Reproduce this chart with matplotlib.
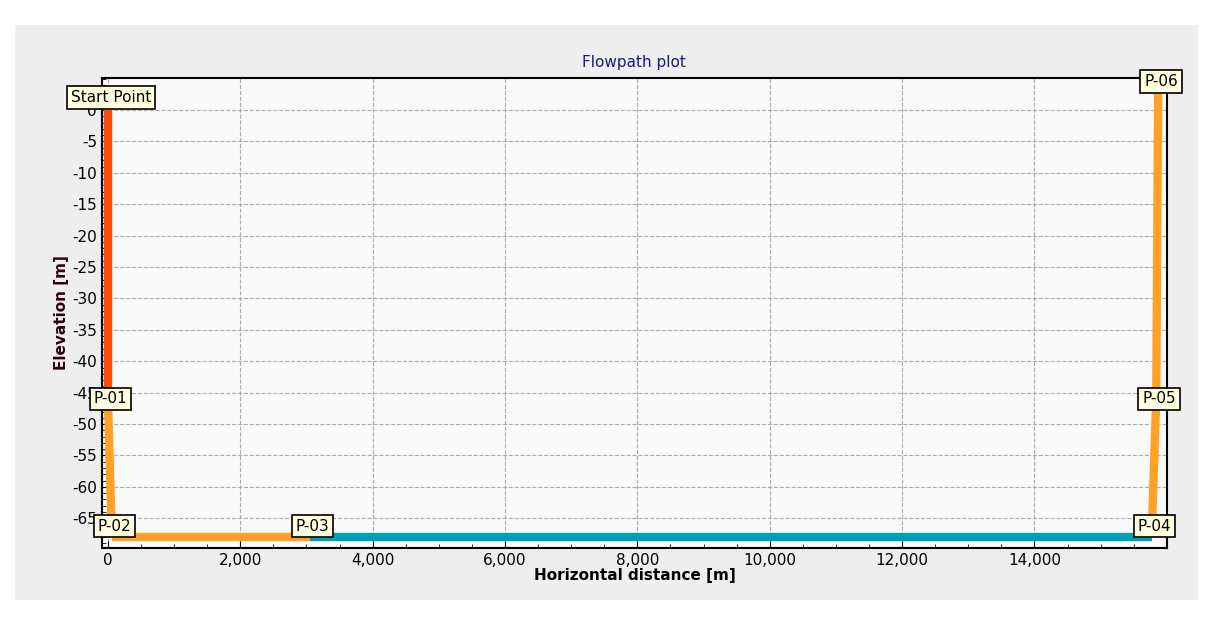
import matplotlib.pyplot as plt
from matplotlib.ticker import FuncFormatter, MultipleLocator

plt.rcParams['axes.unicode_minus'] = False

# 流路点 (水平距离, 高程)
names = ['Start Point', 'P-01', 'P-02', 'P-03', 'P-04', 'P-05', 'P-06']
x_values = [0, 0, 60, 3050, 15770, 15840, 15870]
y_values = [0, -46, -68, -68, -68, -46, 4.5]
label_dy = [9, 0, 8, 8, 8, 0, 0]
seg_colors = ['#ff4a0a', '#ffa126', '#ffa126', '#00a0b0', '#ffa126', '#ffa126']
x_ticks = list(range(0, 14001, 2000))
y_ticks = list(range(0, -66, -5))

fig = plt.figure(figsize=(12.24, 6.19), dpi=100)
fig.patch.set_facecolor('white')
bg = fig.add_axes([0.012, 0.03, 0.967, 0.93])
bg.set_facecolor('#eeeeee')
bg.set_xticks([]); bg.set_yticks([])
for s in bg.spines.values():
    s.set_visible(False)
bg.set_zorder(-1)

ax = fig.add_axes([0.0833, 0.115, 0.87, 0.759])
ax.set_facecolor('#fafafa')

for i in range(len(seg_colors)):
    ax.plot(x_values[i:i + 2], y_values[i:i + 2], color=seg_colors[i], lw=6,
            solid_capstyle='butt', zorder=3)

for n, x, y, dy in zip(names, x_values, y_values, label_dy):
    ax.annotate(n, (x, y), xytext=(2, dy), textcoords='offset points',
                ha='center', va='center', fontsize=11, zorder=5,
                bbox=dict(boxstyle='square,pad=0.25', fc='#ffffe0', ec='black', lw=1.2),
                annotation_clip=False)

ax.set_xlim(-90, 16000)
ax.set_ylim(-69.7, 5.1)
ax.set_xticks(x_ticks)
ax.set_yticks(y_ticks)
ax.xaxis.set_minor_locator(MultipleLocator(500))
ax.yaxis.set_minor_locator(MultipleLocator(1))
ax.xaxis.set_major_formatter(FuncFormatter(lambda v, p: f'{v:,.0f}'))
ax.grid(True, which='major', ls='--', color='#aaaaaa', lw=0.8)
ax.tick_params(axis='both', labelsize=11, direction='in', length=5)
ax.tick_params(axis='both', which='minor', direction='in', length=3)
for s in ax.spines.values():
    s.set_linewidth(1.5)

ax.set_title('Flowpath plot', fontsize=11, color='#1a1a80', pad=8)
ax.set_xlabel('Horizontal distance [m]', fontsize=11, fontweight='bold', labelpad=0)
ax.set_ylabel('Elevation [m]', fontsize=11, fontweight='bold', color='#300010', labelpad=2)

plt.savefig('out.png')
